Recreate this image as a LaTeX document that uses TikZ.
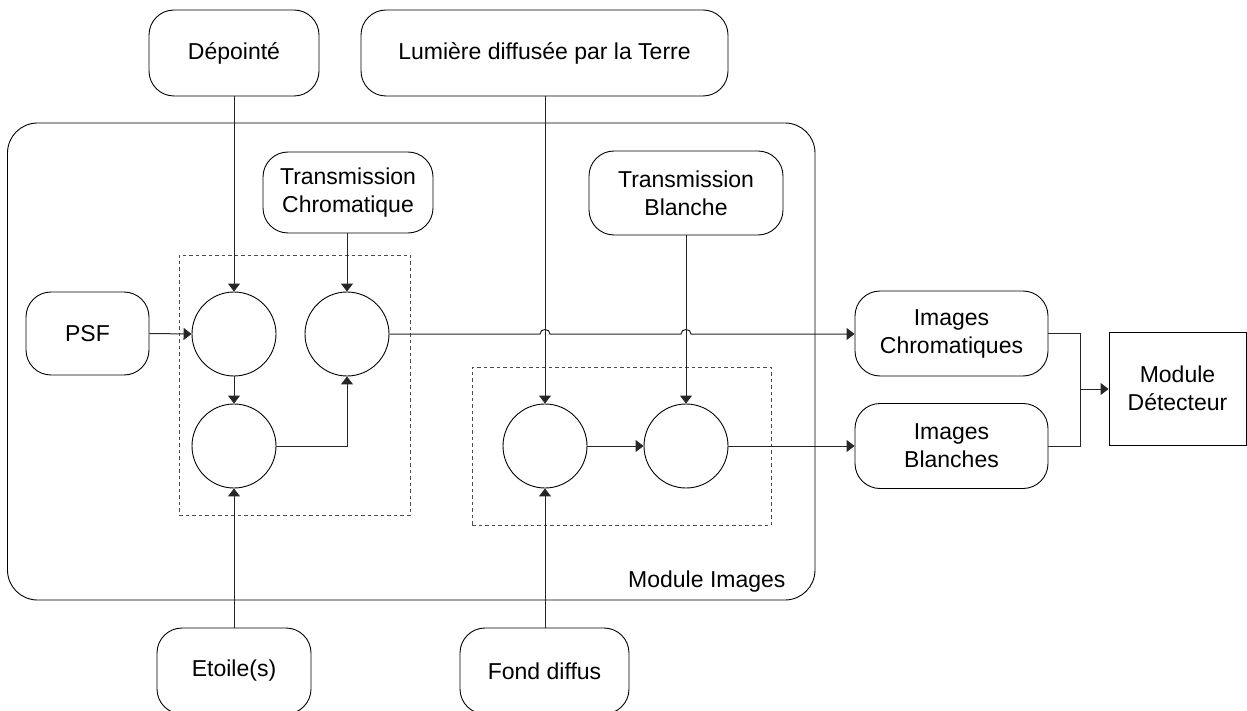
\documentclass[tikz,border=0pt]{standalone}
\usepackage{fontspec}
\setmainfont{Liberation Sans}
\usetikzlibrary{arrows.meta,calc}
\begin{document}
\begin{tikzpicture}[x=1pt,y=-1pt,
  every node/.style={font=\fontsize{23}{28}\selectfont},
  rbox/.style={draw=black,line width=0.9pt,rounded corners=25pt,align=center,inner sep=0pt},
  sbox/.style={draw=black,line width=0.9pt,align=center,inner sep=0pt},
  opnode/.style={draw=black,line width=0.9pt,circle,minimum size=84pt,inner sep=0pt},
  dotbox/.style={draw=black!70,line width=0.9pt,dash pattern=on 3.5pt off 3pt},
  conn/.style={draw=black!85,line width=1pt},
  arr/.style={conn,-{Triangle[length=8pt,width=12pt]}}]
\useasboundingbox (0,0) rectangle (1247,711);
% big module box
\node[draw=black,line width=0.9pt,rounded corners=30pt,minimum width=807.5pt,minimum height=477pt,inner sep=0pt] (modimg) at (411.25,361.5) {};
\node[anchor=base east] (modimglbl) at (789,587) {Module Images};
% dotted groups
\node[dotbox,minimum width=231pt,minimum height=260pt,inner sep=0pt] (grp1) at (294.5,385) {};
\node[dotbox,minimum width=299pt,minimum height=158pt,inner sep=0pt] (grp2) at (621.5,446) {};
% source boxes
\node[rbox,minimum width=170pt,minimum height=86pt] (dep) at (234,53) {Dépointé};
\node[rbox,minimum width=367pt,minimum height=86pt] (lum) at (544.5,53) {Lumière diffusée par la Terre};
\node[rbox,minimum width=170pt,minimum height=81pt] (tc) at (348,192.5) {Transmission\\Chromatique};
\node[rbox,minimum width=194pt,minimum height=84pt] (tb) at (686,193) {Transmission\\Blanche};
\node[rbox,minimum width=123pt,minimum height=83pt] (psf) at (87.5,333.5) {PSF};
\node[rbox,minimum width=154pt,minimum height=86pt] (eto) at (234,671) {Etoile(s)};
\node[rbox,minimum width=169pt,minimum height=86pt] (fond) at (544.5,671) {Fond diffus};
\node[rbox,minimum width=193pt,minimum height=85pt] (ic) at (951.5,333.5) {Images\\Chromatiques};
\node[rbox,minimum width=193pt,minimum height=85pt] (ib) at (951.5,446) {Images\\Blanches};
\node[sbox,minimum width=137pt,minimum height=113pt] (det) at (1177.5,388.5) {Module\\Détecteur};
% operators
\node[opnode] (c1) at (234,334) {};
\node[opnode] (c2) at (347,334) {};
\node[opnode] (c3) at (234,446) {};
\node[opnode] (c4) at (545,446) {};
\node[opnode] (c5) at (686,446) {};
\coordinate (j) at (1080,389);
% connectors
\draw[arr] (c1.north |- dep.south) -- (c1.north);
\draw[arr] (c2.north |- tc.south) -- (c2.north);
\draw[arr] (c4.north |- lum.south) -- (c4.north);
\draw[arr] (c5.north |- tb.south) -- (c5.north);
\draw[arr] (psf.east) -- (c1.west);
\draw[arr] (c1.south) -- (c3.north);
\draw[arr] (c3.east) -| (c2.south);
\draw[arr] (c3.south |- eto.north) -- (c3.south);
\draw[arr] (c4.south |- fond.north) -- (c4.south);
\draw[arr] (c4.east) -- (c5.west);
\draw[arr] (c2.east)
  -- ($(c4.north |- c2.east)+(-5,0)$) .. controls +(0,-6) and +(0,-6) .. ($(c4.north |- c2.east)+(5,0)$)
  -- ($(c5.north |- c2.east)+(-5,0)$) .. controls +(0,-6) and +(0,-6) .. ($(c5.north |- c2.east)+(5,0)$)
  -- (ic.west |- c2.east);
\draw[arr] (c5.east) -- (ib.west);
\draw[conn] (ic.east) -| (j);
\draw[conn] (ib.east) -| (j);
\draw[arr] (j) -- (det.west |- j);
\end{tikzpicture}
\end{document}
